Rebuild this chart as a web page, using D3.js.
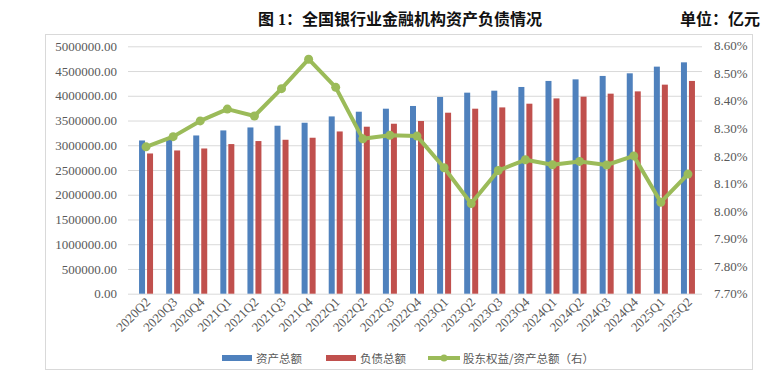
<!DOCTYPE html>
<html>
<head>
<meta charset="utf-8">
<script src="https://cdn.jsdelivr.net/npm/d3@7"></script>
<style>
  body { margin: 0; background: #fff; }
  svg { display: block; }
</style>
</head>
<body>
<svg id="chart" width="773" height="381"></svg>
<script>
// 季度
var quarters = ["2020Q2","2020Q3","2020Q4","2021Q1","2021Q2","2021Q3","2021Q4",
  "2022Q1","2022Q2","2022Q3","2022Q4","2023Q1","2023Q2","2023Q3","2023Q4",
  "2024Q1","2024Q2","2024Q3","2024Q4","2025Q1","2025Q2"];

// 资产总额 (亿元)
var assets = [3097000,3158000,3198000,3300000,3360000,3395000,3455000,
  3583000,3678000,3739000,3794000,3976000,4063000,4103000,4178000,
  4300000,4332000,4401000,4454000,4589000,4676000];

// 负债总额 (亿元)
var liabilities = [2834000,2895000,2935000,3024000,3085000,3111000,3152000,
  3279000,3375000,3435000,3490000,3658000,3739000,3765000,3840000,
  3947000,3982000,4043000,4089000,4225000,4300000];

// 股东权益/资产总额 (%)
var equityRatio = [8.233,8.270,8.327,8.370,8.345,8.444,8.551,
  8.449,8.262,8.275,8.272,8.157,8.027,8.147,8.186,
  8.168,8.180,8.167,8.200,8.032,8.134];

var leftTicks = d3.range(0, 5000001, 500000);
var rightTicks = [7.7,7.8,7.9,8.0,8.1,8.2,8.3,8.4,8.5,8.6];

var svg = d3.select("#chart");
var serif = "'Liberation Serif','Times New Roman',serif";
var cjk = "'Liberation Serif','Noto Sans CJK SC',sans-serif";

var x = d3.scaleBand().domain(quarters).range([132.5, 701.5]);
var yL = d3.scaleLinear().domain([0, 5000000]).range([293.7, 46.3]);
var yR = d3.scaleLinear().domain([7.7, 8.6]).range([293.7, 45.7]);

// frame
svg.append("rect")
    .attr("x", 45.5).attr("y", 34.5)
    .attr("width", 707).attr("height", 335)
    .attr("fill", "none").attr("stroke", "#d9d9d9");

// title
svg.append("text")
    .attr("x", 400).attr("y", 25)
    .attr("text-anchor", "middle")
    .style("font-family", cjk).style("font-size", "16px").style("font-weight", "bold")
    .style("fill", "#111")
    .text("图 1：全国银行业金融机构资产负债情况");
svg.append("text")
    .attr("x", 760).attr("y", 25)
    .attr("text-anchor", "end")
    .style("font-family", cjk).style("font-size", "16px").style("font-weight", "bold")
    .style("fill", "#111")
    .text("单位：亿元");

// grid + left axis
var gridAxis = svg.append("g")
    .attr("transform", "translate(128,0)")
    .call(d3.axisLeft(yL).tickValues(leftTicks).tickSize(-574).tickFormat(""));
gridAxis.select(".domain").remove();
gridAxis.selectAll("line").attr("stroke", "#d9d9d9");

var leftAxis = svg.append("g")
    .attr("transform", "translate(117,0)")
    .call(d3.axisLeft(yL).tickValues(leftTicks).tickSize(0).tickPadding(0)
      .tickFormat(function(d) { return d3.format(".2f")(d); }));
leftAxis.select(".domain").remove();
leftAxis.selectAll("text")
    .style("font-family", serif).style("font-size", "13px").style("fill", "#595959");

var rightAxis = svg.append("g")
    .attr("transform", "translate(714,0)")
    .call(d3.axisRight(yR).tickValues(rightTicks).tickSize(0).tickPadding(0)
      .tickFormat(function(d) { return d.toFixed(2) + "%"; }));
rightAxis.select(".domain").remove();
rightAxis.selectAll("text")
    .style("font-family", serif).style("font-size", "13px").style("fill", "#595959");

// bars
var cx = function(d) { return x(d) + x.bandwidth() / 2; };
svg.append("g").selectAll("rect")
    .data(quarters)
    .enter().append("rect")
      .attr("x", function(d) { return cx(d) - 7; })
      .attr("y", function(d, i) { return yL(assets[i]); })
      .attr("width", 6)
      .attr("height", function(d, i) { return yL(0) - yL(assets[i]); })
      .attr("fill", "#4f81bd");
svg.append("g").selectAll("rect")
    .data(quarters)
    .enter().append("rect")
      .attr("x", function(d) { return cx(d) + 1; })
      .attr("y", function(d, i) { return yL(liabilities[i]); })
      .attr("width", 6)
      .attr("height", function(d, i) { return yL(0) - yL(liabilities[i]); })
      .attr("fill", "#c0504d");

// ratio line
var line = d3.line()
    .x(function(d, i) { return cx(quarters[i]); })
    .y(function(d) { return yR(d); });
svg.append("path")
    .datum(equityRatio)
    .attr("d", line)
    .attr("fill", "none")
    .attr("stroke", "#9bbb59")
    .attr("stroke-width", 4)
    .attr("stroke-linejoin", "round");
svg.append("g").selectAll("circle")
    .data(equityRatio)
    .enter().append("circle")
      .attr("cx", function(d, i) { return cx(quarters[i]); })
      .attr("cy", function(d) { return yR(d); })
      .attr("r", 4.5)
      .attr("fill", "#9bbb59");

// x labels
svg.append("g").selectAll("text")
    .data(quarters)
    .enter().append("text")
      .attr("transform", function(d) { return "translate(" + (cx(d) + 5) + ",303) rotate(-45)"; })
      .attr("text-anchor", "end")
      .style("font-family", serif).style("font-size", "13px").style("fill", "#595959")
      .text(function(d) { return d; });

// legend
var legend = [
  { name: "资产总额", color: "#4f81bd", x: 222, kind: "bar" },
  { name: "负债总额", color: "#c0504d", x: 326, kind: "bar" },
  { name: "股东权益/资产总额（右）", color: "#9bbb59", x: 428, kind: "line" }
];
var lg = svg.append("g").selectAll("g")
    .data(legend)
    .enter().append("g")
      .attr("transform", function(d) { return "translate(" + d.x + ",358)"; });
lg.filter(function(d) { return d.kind === "bar"; }).append("rect")
    .attr("x", 0).attr("y", -3).attr("width", 30).attr("height", 6)
    .attr("fill", function(d) { return d.color; });
lg.filter(function(d) { return d.kind === "line"; }).append("line")
    .attr("x1", 0).attr("x2", 32).attr("y1", 0).attr("y2", 0)
    .attr("stroke", function(d) { return d.color; }).attr("stroke-width", 4);
lg.filter(function(d) { return d.kind === "line"; }).append("circle")
    .attr("cx", 16).attr("cy", 0).attr("r", 3.5)
    .attr("fill", function(d) { return d.color; });
lg.append("text")
    .attr("x", function(d) { return d.kind === "bar" ? 34 : 35; })
    .attr("y", 4.5)
    .style("font-family", "'Noto Sans CJK SC',sans-serif").style("font-size", "11.5px")
    .style("fill", "#595959")
    .text(function(d) { return d.name; });
</script>
</body>
</html>
